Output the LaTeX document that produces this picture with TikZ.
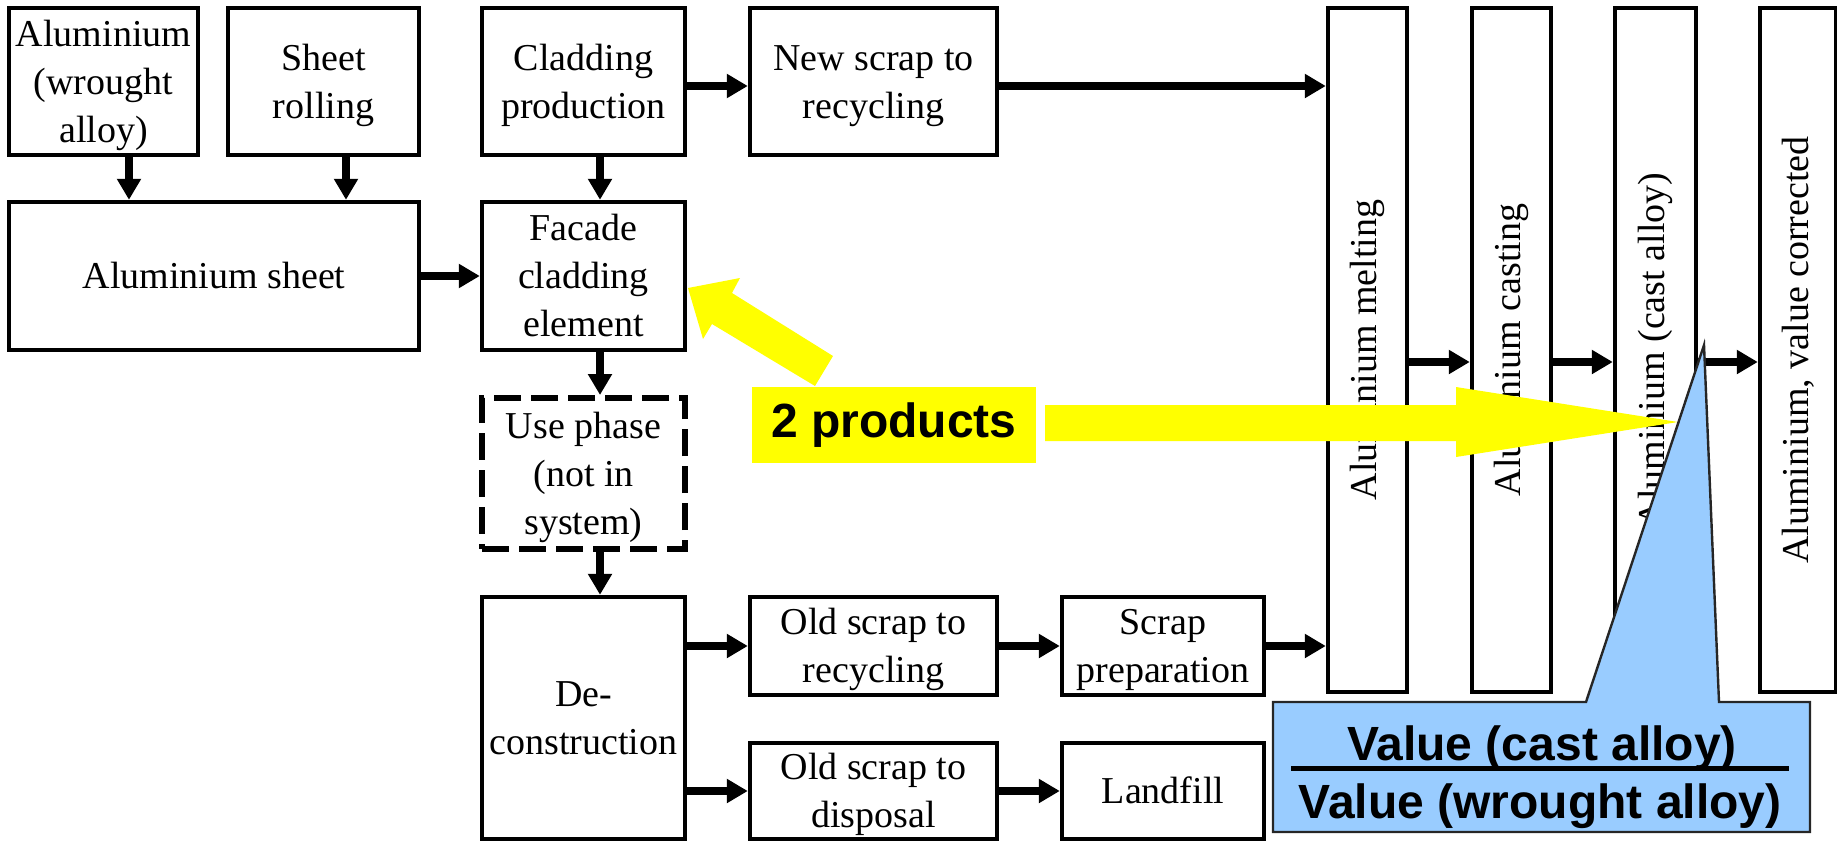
\documentclass[tikz,border=0pt]{standalone}
\usepackage{fontspec}
\setmainfont{Liberation Serif}
\newfontfamily\labelsans{Liberation Sans}
\usetikzlibrary{arrows.meta}
\definecolor{calloutblue}{HTML}{99CCFF}
\definecolor{hiyellow}{HTML}{FFFF00}
% line strut with the serif font's ascent and descent
\newcommand\boxstrut{\rule[-4.1pt]{0pt}{21pt}}

\begin{document}
\begin{tikzpicture}[x=0.5pt,y=-0.5pt,
  procbox/.style={draw, line width=2.2pt, inner sep=0pt, align=center,
    font=\fontsize{19pt}{24pt}\selectfont, execute at end node=\boxstrut},
  outside/.style={procbox, line width=3pt, dash pattern=on 13.5pt off 5pt},
  column/.style={draw, line width=2.2pt, inner sep=0pt, minimum width=#1, minimum height=342pt},
  size/.style 2 args={minimum width=#1, minimum height=#2},
  flow/.style={line width=4pt, -{Triangle[length=10.5pt,width=11.5pt]}},
  coltext/.style={rotate=90, inner sep=0pt, font=\fontsize{19pt}{24pt}\selectfont},
  bigsans/.style={inner sep=0pt, font=\labelsans\bfseries\fontsize{24pt}{28pt}\selectfont},
]
\useasboundingbox (0,0) rectangle (1837,841);

% upstream production chain
\node[procbox, size={94.5pt}{73.5pt}]  (alu)      at (103.5,81.5) {\boxstrut Aluminium\\(wrought\\alloy)};
\node[procbox, size={95.5pt}{73.5pt}]  (roll)     at (323.5,81.5) {\boxstrut Sheet\\rolling};
\node[procbox, size={101.5pt}{73.5pt}] (clad)     at (583.5,81.5) {\boxstrut Cladding\\production};
\node[procbox, size={123.5pt}{73.5pt}] (newscrap) at (873.5,81.5) {\boxstrut New scrap to\\recycling};
\node[procbox, size={205pt}{74pt}]     (sheet)    at (214,276)    {\boxstrut Aluminium sheet};
\node[procbox, size={101.5pt}{74pt}]   (facade)   at (583.5,276)  {\boxstrut Facade\\cladding\\element};
\node[outside, size={101.5pt}{75.5pt}] (use)      at (583.5,473.5) {\boxstrut Use phase\\(not in\\system)};

% end of life
\node[procbox, size={101.5pt}{121pt}]  (decon)    at (583.5,718) {\boxstrut De-\\construction};
\node[procbox, size={123.5pt}{49pt}]   (oldrec)   at (873.5,646) {\boxstrut Old scrap to\\recycling};
\node[procbox, size={101pt}{49pt}]     (prep)     at (1163,646)  {\boxstrut Scrap\\preparation};
\node[procbox, size={123.5pt}{48pt}]   (olddisp)  at (873.5,791) {\boxstrut Old scrap to\\disposal};
\node[procbox, size={101pt}{48pt}]     (landfill) at (1163,791)  {\boxstrut Landfill};

% secondary aluminium columns
\node[column=39.5pt] (melt)  at (1367.5,350) {};
\node[coltext] (meltT)  at (melt.center)  {Aluminium melting};
\node[column=39.5pt] (cast)  at (1511.5,350) {};
\node[coltext] (castT)  at (cast.center)  {Aluminium casting};
\node[column=40.5pt] (alloy) at (1655.5,350) {};
\node[coltext] (alloyT) at (alloy.center) {Aluminium (cast alloy)};
\node[column=38pt]   (corr)  at (1798,350)   {};
\node[coltext] (corrT)  at (corr.center)  {Aluminium, value corrected};

% flows
\draw[flow] ([xshift=12.75pt]alu.south) -- ([xshift=12.75pt]alu.south |- sheet.north);
\draw[flow] ([xshift=11.25pt]roll.south) -- ([xshift=11.25pt]roll.south |- sheet.north);
\draw[flow] ([xshift=8.25pt]clad.south) -- ([xshift=8.25pt]facade.north);
\draw[flow] (sheet.east) -- (facade.west);
\draw[flow] ([yshift=-2.25pt]clad.east) -- ([yshift=-2.25pt]newscrap.west);
\draw[flow] ([yshift=-2.25pt]newscrap.east) -- ([yshift=-2.25pt]newscrap.east -| melt.west);
\draw[flow] ([xshift=8.25pt]facade.south) -- ([xshift=8.25pt]use.north);
\draw[flow] ([xshift=8.25pt]use.south) -- ([xshift=8.25pt]decon.north);
\draw[flow] (oldrec.west -| decon.east) -- (oldrec.west);
\draw[flow] (oldrec.east) -- (prep.west);
\draw[flow] (prep.east) -- (prep.east -| melt.west);
\draw[flow] (olddisp.west -| decon.east) -- (olddisp.west);
\draw[flow] (olddisp.east) -- (landfill.west);
\draw[flow] ([yshift=-6pt]melt.east) -- ([yshift=-6pt]cast.west);
\draw[flow] ([yshift=-6pt]cast.east) -- ([yshift=-6pt]alloy.west);
\draw[flow] ([yshift=-6pt]alloy.east) -- ([yshift=-6pt]corr.west);

% highlight: two products
\node[bigsans, fill=hiyellow, size={142pt}{38pt}] (prod) at (894,425) {2 products};
\fill[hiyellow] (688,288) -- (740,278) -- (732,293) -- (833,356) -- (815,386)
  -- (712,324) -- (703,339) -- cycle;
\fill[hiyellow] (1045,405) -- (1456,405) -- (1456,387) -- (1678,422)
  -- (1456,457) -- (1456,441) -- (1045,441) -- cycle;

% value correction callout
\filldraw[fill=calloutblue, draw=black!85, line width=1.2pt]
  (1273,702) -- (1586,702) -- (1704,345) -- (1719,702) -- (1810,702)
  -- (1810,832) -- (1273,832) -- cycle;
\node[bigsans, anchor=base] (num) at (1542,760) {Value (cast alloy)};
\node[bigsans, anchor=base] (den) at (1540,818) {Value (wrought alloy)};
\coordinate (barL) at (1291,768);
\coordinate (barR) at (1789,768);
\draw[line width=2.5pt] (barL) -- (barR);
\end{tikzpicture}
\end{document}
